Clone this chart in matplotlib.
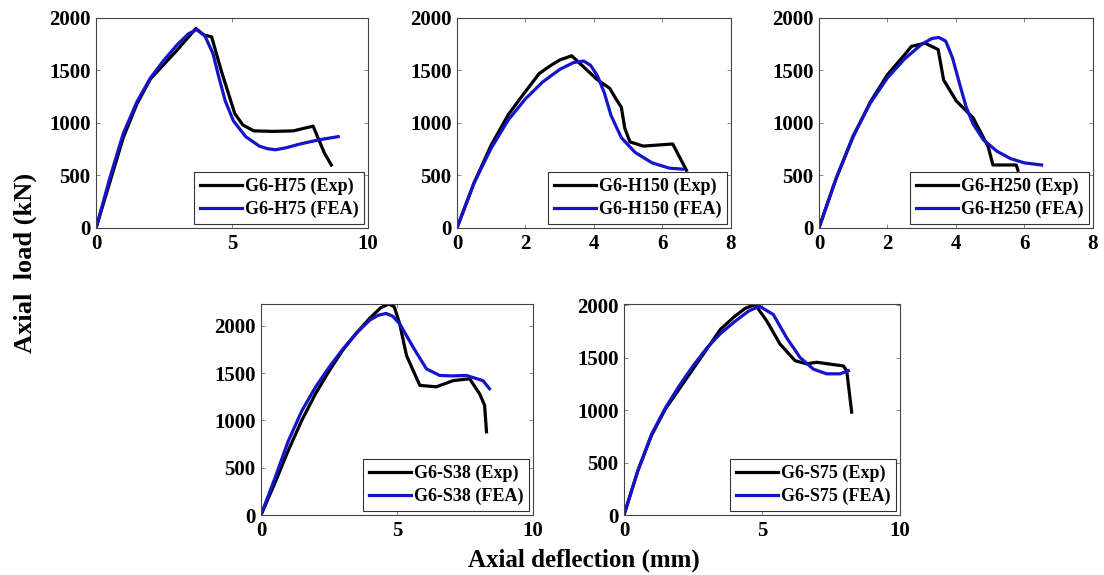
#!/usr/bin/env python

# Axial load vs axial deflection, experiment vs FEA, five specimens.

import matplotlib
matplotlib.use("Agg")
import matplotlib.pyplot as plt

# G6-H75
h75_exp_x = [0, 0.5, 1.0, 1.5, 2.0, 2.5, 3.0, 3.4, 3.67, 3.95, 4.25, 4.6, 5.1, 5.4, 5.8, 6.5, 7.25, 7.98, 8.4, 8.65]
h75_exp_y = [0, 430, 860, 1180, 1420, 1560, 1700, 1820, 1900, 1840, 1820, 1500, 1090, 980, 925, 920, 925, 970, 710, 600]
h75_fea_x = [0, 0.5, 1.0, 1.5, 2.0, 2.5, 3.0, 3.4, 3.7, 4.0, 4.3, 4.5, 4.75, 5.05, 5.5, 6.0, 6.3, 6.6, 7.0, 7.5, 8.2, 8.9]
h75_fea_y = [0, 470, 900, 1200, 1430, 1600, 1750, 1850, 1890, 1830, 1660, 1450, 1210, 1020, 870, 780, 755, 745, 765, 800, 840, 870]

# G6-H150
h150_exp_x = [0, 0.5, 1.0, 1.5, 2.0, 2.4, 2.7, 3.0, 3.35, 3.68, 4.07, 4.46, 4.66, 4.8, 4.9, 5.05, 5.44, 6.3, 6.7]
h150_exp_y = [0, 430, 790, 1080, 1300, 1470, 1540, 1600, 1640, 1540, 1420, 1330, 1220, 1150, 950, 820, 780, 800, 550]
h150_fea_x = [0, 0.5, 1.0, 1.5, 2.0, 2.5, 3.0, 3.4, 3.7, 3.9, 4.1, 4.3, 4.5, 4.8, 5.2, 5.7, 6.2, 6.6]
h150_fea_y = [0, 430, 760, 1030, 1230, 1390, 1510, 1575, 1590, 1550, 1450, 1290, 1070, 860, 720, 620, 570, 560]

# G6-H250
h250_exp_x = [0, 0.5, 1.0, 1.5, 2.0, 2.5, 2.7, 3.1, 3.48, 3.64, 4.01, 4.5, 4.94, 5.08, 5.76, 5.81]
h250_exp_y = [0, 470, 870, 1200, 1460, 1650, 1730, 1760, 1700, 1410, 1210, 1050, 775, 600, 600, 550]
h250_fea_x = [0, 0.5, 1.0, 1.5, 2.0, 2.5, 3.0, 3.3, 3.5, 3.7, 3.9, 4.1, 4.3, 4.5, 4.8, 5.2, 5.6, 6.0, 6.5]
h250_fea_y = [0, 470, 880, 1190, 1430, 1610, 1750, 1805, 1815, 1780, 1620, 1380, 1150, 990, 840, 730, 660, 620, 600]

# G6-S38
s38_exp_x = [0, 0.5, 1.0, 1.5, 2.0, 2.5, 3.0, 3.5, 4.0, 4.4, 4.7, 4.9, 5.1, 5.35, 5.84, 6.45, 7.06, 7.67, 8.04, 8.22, 8.29]
s38_exp_y = [0, 330, 680, 1000, 1280, 1520, 1740, 1920, 2080, 2190, 2230, 2200, 2020, 1685, 1370, 1355, 1420, 1440, 1280, 1160, 880]
s38_fea_x = [0, 0.5, 1.0, 1.5, 2.0, 2.5, 3.0, 3.5, 4.0, 4.3, 4.6, 4.85, 5.1, 5.6, 6.08, 6.57, 7.0, 7.55, 8.16, 8.4]
s38_fea_y = [0, 380, 780, 1100, 1350, 1560, 1750, 1920, 2060, 2110, 2130, 2100, 2020, 1770, 1545, 1475, 1470, 1475, 1420, 1335]

# G6-S75
s75_exp_x = [0, 0.5, 1.0, 1.5, 2.0, 2.5, 3.0, 3.5, 4.0, 4.4, 4.75, 5.17, 5.65, 6.2, 6.62, 6.98, 7.95, 8.07, 8.25]
s75_exp_y = [0, 420, 760, 1010, 1200, 1390, 1580, 1770, 1890, 1970, 2005, 1850, 1630, 1470, 1440, 1455, 1420, 1375, 980]
s75_fea_x = [0, 0.5, 1.0, 1.5, 2.0, 2.5, 3.0, 3.5, 4.0, 4.5, 4.9, 5.41, 5.89, 6.38, 6.86, 7.34, 7.83, 8.13]
s75_fea_y = [0, 420, 770, 1020, 1230, 1420, 1590, 1730, 1840, 1940, 1990, 1910, 1690, 1500, 1390, 1345, 1345, 1375]

panels = [
    ("G6-H75", h75_exp_x, h75_exp_y, h75_fea_x, h75_fea_y, [0, 5, 10], 10, 2000),
    ("G6-H150", h150_exp_x, h150_exp_y, h150_fea_x, h150_fea_y, [0, 2, 4, 6, 8], 8, 2000),
    ("G6-H250", h250_exp_x, h250_exp_y, h250_fea_x, h250_fea_y, [0, 2, 4, 6, 8], 8, 2000),
    ("G6-S38", s38_exp_x, s38_exp_y, s38_fea_x, s38_fea_y, [0, 5, 10], 10, 2230),
    ("G6-S75", s75_exp_x, s75_exp_y, s75_fea_x, s75_fea_y, [0, 5, 10], 10, 2010),
]
y_ticks = [0, 500, 1000, 1500, 2000]

# axes rectangles, figure fractions
boxes = [
    [0.0870, 0.6035, 0.2464, 0.3652],
    [0.4139, 0.6035, 0.2482, 0.3652],
    [0.7418, 0.6035, 0.2482, 0.3652],
    [0.2364, 0.1043, 0.2464, 0.3670],
    [0.5652, 0.1043, 0.2500, 0.3670],
]

plt.rcParams["font.family"] = ["Liberation Serif", "DejaVu Serif"]
plt.rcParams["font.weight"] = "bold"

blue = "#1414c8"

fig = plt.figure(figsize=(11.04, 5.75), dpi=100, facecolor="white")

for (name, ex, ey, fx, fy, xt, xmax, ymax), box in zip(panels, boxes):
    ax = fig.add_axes(box)
    ax.plot(ex, ey, color="black", lw=2.3, label=name + " (Exp)")
    ax.plot(fx, fy, color=blue, lw=2.3, label=name + " (FEA)")
    ax.set_xlim(0, xmax)
    ax.set_ylim(0, ymax)
    ax.set_xticks(xt)
    ax.set_yticks(y_ticks)
    ax.tick_params(direction="in", length=3, width=0.6, top=True, right=True,
                   labelsize=15, colors="#777777", labelcolor="black", pad=4)
    for lab in ax.get_xticklabels() + ax.get_yticklabels():
        lab.set_fontweight("bold")
    for sp in ax.spines.values():
        sp.set_color("#444444")
        sp.set_linewidth(0.8)
    leg = ax.legend(loc="lower right", fontsize=13, frameon=True, fancybox=False,
                    handlelength=2.3, handletextpad=0.15, borderaxespad=0.2,
                    borderpad=0.35, labelspacing=0.3)
    leg.get_frame().set_edgecolor("black")
    leg.get_frame().set_linewidth(0.8)
    for t in leg.get_texts():
        t.set_fontweight("bold")

fig.text(0.023, 0.543, "Axial  load (kN)", rotation=90, ha="center", va="center",
         fontsize=19, fontweight="bold")
fig.text(0.529, 0.026, "Axial deflection (mm)", ha="center", va="center",
         fontsize=18, fontweight="bold")

fig.savefig("out.png", dpi=100, facecolor="white")
